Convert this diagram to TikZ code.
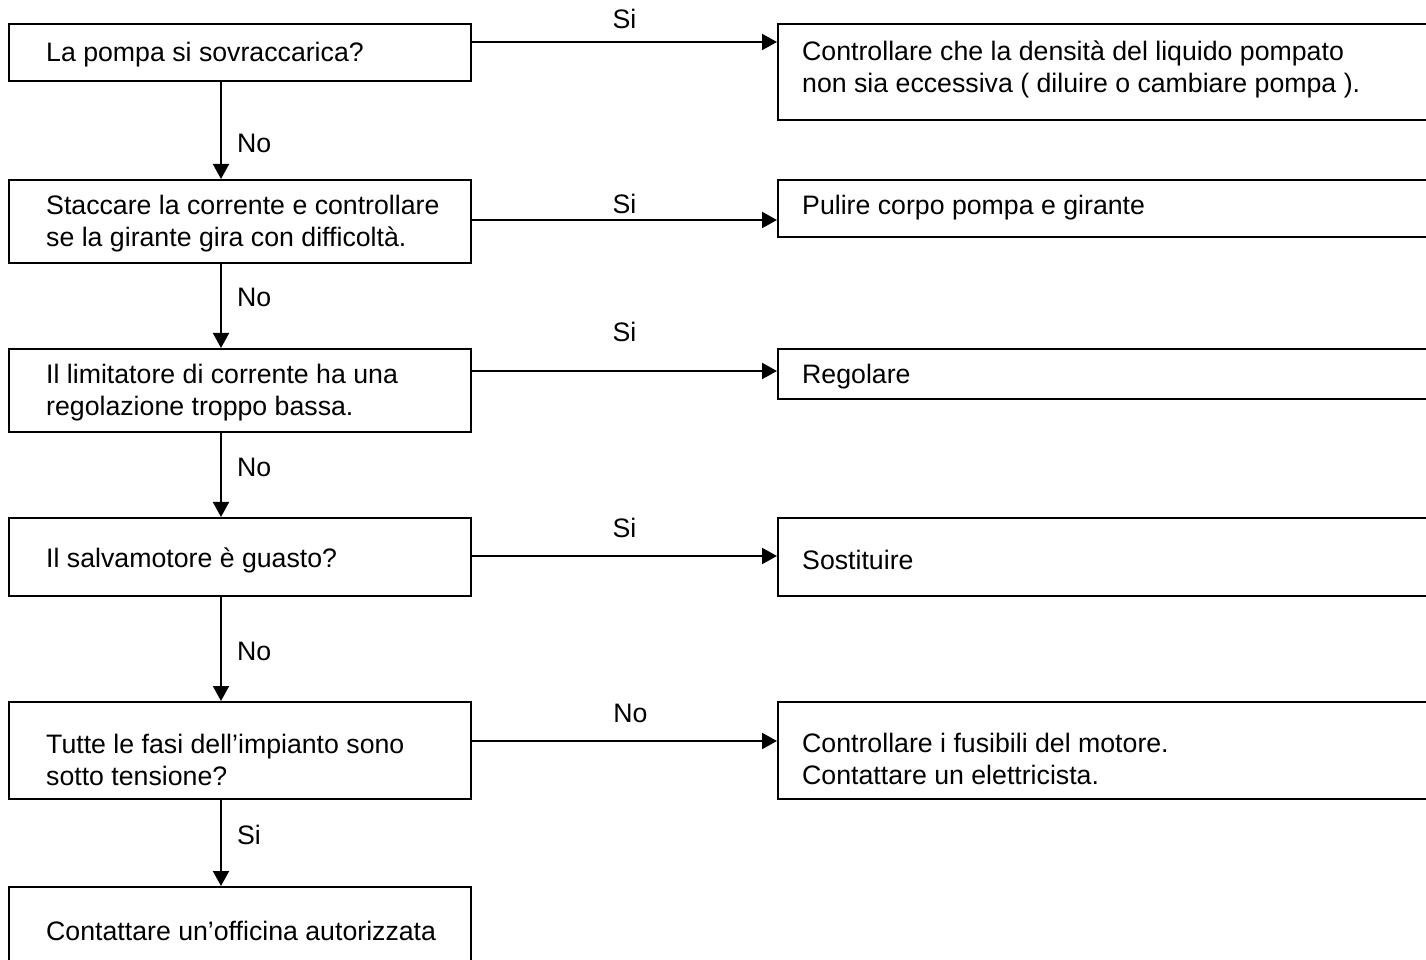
\documentclass[tikz,border=0pt]{standalone}
\usepackage{fontspec}
\setmainfont{Liberation Sans}
\usetikzlibrary{arrows.meta}
\newcommand{\tfont}{\fontsize{26.7}{32}\selectfont}
\tikzset{
  boxnode/.style={draw, line width=2pt, inner sep=0pt, anchor=center},
  lbox/.style={boxnode, minimum width=462pt, minimum height=#1},
  rbox/.style={boxnode, minimum width=662pt, minimum height=#1},
  txt/.style={font=\tfont, align=left, inner sep=0pt, anchor=west},
  lab/.style={font=\tfont, inner sep=0pt},
  arr/.style={line width=2pt, -{Triangle[length=15pt,width=16pt]}}
}
\begin{document}
\begin{tikzpicture}[x=1pt,y=1pt]
\clip (0,0) rectangle (1426,959);
% left column boxes
\node[lbox=57pt] (b1) at (240,906.5) {};
\node[lbox=83pt] (b2) at (240,737.5) {};
\node[lbox=83pt] (b3) at (240,568.5) {};
\node[lbox=78pt] (b4) at (240,402) {};
\node[lbox=97pt] (b5) at (240,208.5) {};
\node[lbox=88pt] (b6) at (240,28) {};
% right column boxes
\node[rbox=96pt] (r1) at (1109,887) {};
\node[rbox=57pt] (r2) at (1109,750.5) {};
\node[rbox=50pt] (r3) at (1109,585) {};
\node[rbox=78pt] (r4) at (1109,402) {};
\node[rbox=97pt] (r5) at (1109,208.5) {};
% texts
\node[txt] (t1) at ([xshift=38pt,yshift=-2.5pt]b1.west) {La pompa si sovraccarica?};
\node[txt] (t2) at ([xshift=38pt,yshift=-2.5pt]b2.west) {Staccare la corrente e controllare\\se la girante gira con difficoltà.};
\node[txt] (t3) at ([xshift=38pt,yshift=-2.5pt]b3.west) {Il limitatore di corrente ha una\\regolazione troppo bassa.};
\node[txt] (t4) at ([xshift=38pt,yshift=-3pt]b4.west) {Il salvamotore è guasto?};
\node[txt] (t5) at ([xshift=38pt,yshift=-9pt]b5.west) {Tutte le fasi dell’impianto sono\\sotto tensione?};
\node[txt] (t6) at ([xshift=38pt,yshift=0.5pt]b6.west) {Contattare un’officina autorizzata};
\node[txt] (s1) at ([xshift=25pt,yshift=2.5pt]r1.west) {Controllare che la densità del liquido pompato\\non sia eccessiva ( diluire o cambiare pompa ).};
\node[txt] (s2) at ([xshift=25pt,yshift=0.5pt]r2.west) {Pulire corpo pompa e girante};
\node[txt] (s3) at ([xshift=25pt,yshift=-3pt]r3.west) {Regolare};
\node[txt] (s4) at ([xshift=25pt,yshift=-3pt]r4.west) {Sostituire};
\node[txt] (s5) at ([xshift=25pt,yshift=-8.5pt]r5.west) {Controllare i fusibili del motore.\\Contattare un elettricista.};
% horizontal connectors
\coordinate (h1) at ([yshift=10.5pt]b1.east);
\coordinate (h2) at ([yshift=1.5pt]b2.east);
\coordinate (h3) at ([yshift=19.5pt]b3.east);
\coordinate (h4) at ([yshift=1pt]b4.east);
\coordinate (h5) at ([yshift=9.5pt]b5.east);
\draw[arr] (h1) -- (h1 -| r1.west) node[lab, midway, yshift=23pt] {Si};
\draw[arr] (h2) -- (h2 -| r2.west) node[lab, midway, yshift=16pt] {Si};
\draw[arr] (h3) -- (h3 -| r3.west) node[lab, midway, yshift=39pt] {Si};
\draw[arr] (h4) -- (h4 -| r4.west) node[lab, midway, yshift=28pt] {Si};
\draw[arr] (h5) -- (h5 -| r5.west) node[lab, midway, xshift=6pt, yshift=28pt] {No};
% vertical connectors
\draw[arr] ([xshift=-19pt]b1.south) -- ([xshift=-19pt]b2.north) node[lab, midway, anchor=west, xshift=15pt, yshift=-12.5pt] {No};
\draw[arr] ([xshift=-19pt]b2.south) -- ([xshift=-19pt]b3.north) node[lab, midway, anchor=west, xshift=15pt, yshift=9pt] {No};
\draw[arr] ([xshift=-19pt]b3.south) -- ([xshift=-19pt]b4.north) node[lab, midway, anchor=west, xshift=15pt, yshift=8pt] {No};
\draw[arr] ([xshift=-19pt]b4.south) -- ([xshift=-19pt]b5.north) node[lab, midway, anchor=west, xshift=15pt, yshift=-2pt] {No};
\draw[arr] ([xshift=-19pt]b5.south) -- ([xshift=-19pt]b6.north) node[lab, midway, anchor=west, xshift=15pt, yshift=8pt] {Si};
\end{tikzpicture}
\end{document}
